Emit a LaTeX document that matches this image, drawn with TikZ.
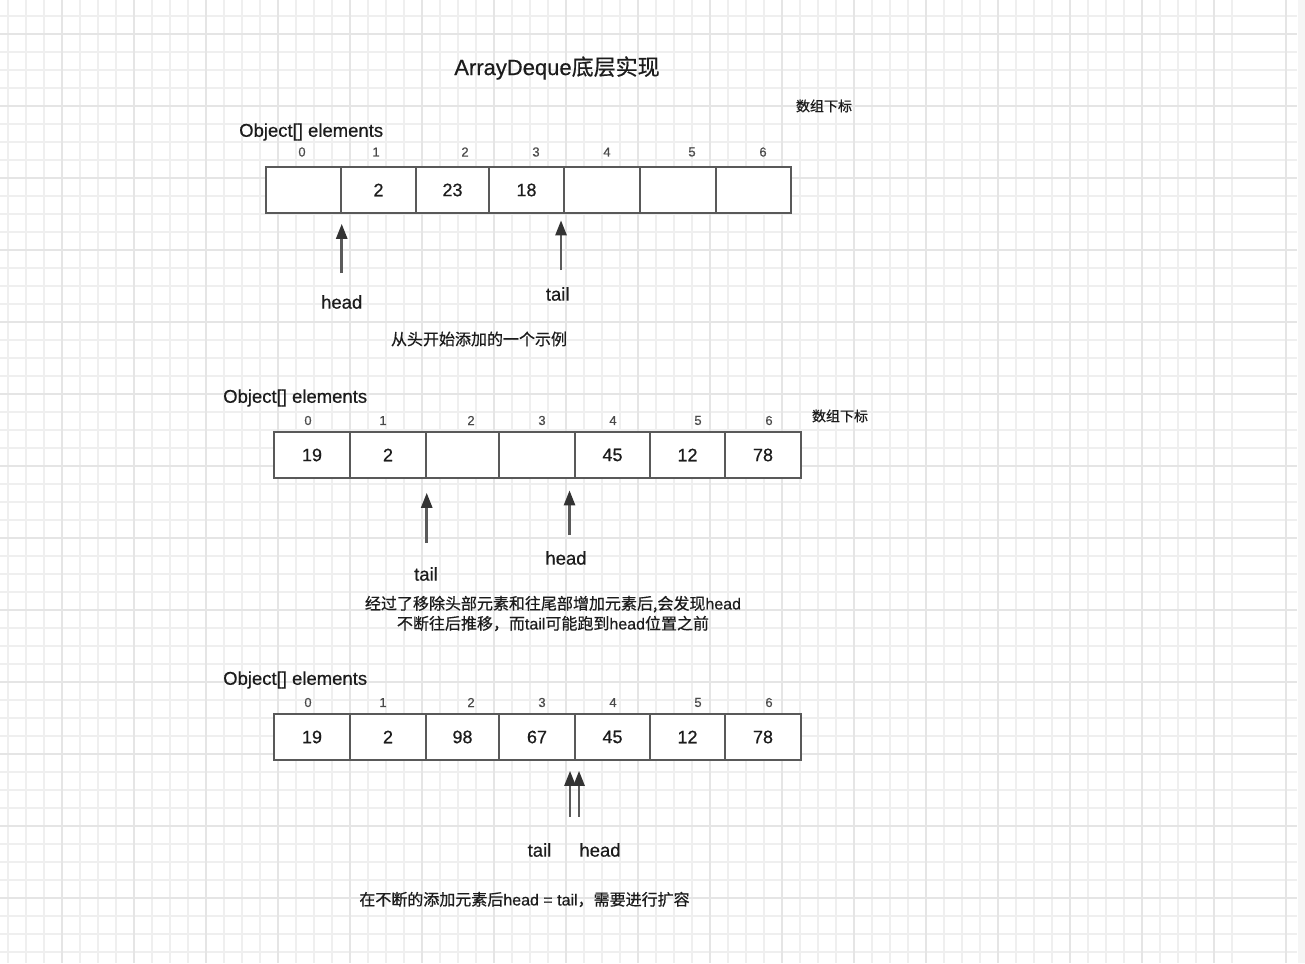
\documentclass[tikz,border=0pt]{standalone}
\usepackage{fontspec}
\setmainfont{Liberation Sans}[FakeBold=0.5]
\newfontfamily\cjk{Noto Sans CJK SC}[FakeBold=0.6]
\usetikzlibrary{arrows.meta,calc}

\definecolor{gridminor}{HTML}{EFEFEF}
\definecolor{gridmajor}{HTML}{E5E5E5}
\definecolor{boxline}{HTML}{595959}
\definecolor{ink}{HTML}{1C1C1C}
\definecolor{ptrgray}{HTML}{5A5A5A}
\definecolor{ptrhead}{HTML}{333333}
\definecolor{sidebar}{HTML}{F5F5F5}

\newcommand\zhs[1]{{\cjk #1}}

\begin{document}
\begin{tikzpicture}[x=1pt,y=-1pt,
  cell/.style={draw=boxline, line width=2.7pt, fill=white, minimum height=46pt,
    inner sep=0pt, font=\fontsize{18}{18}\selectfont, text=ink},
  idx/.style={inner sep=0pt, font=\fontsize{13}{13}\selectfont, text=ink!80},
  lbl/.style={inner sep=0pt, font=\fontsize{18.5}{20}\selectfont, text=ink},
  note/.style={inner sep=0pt, font=\fontsize{16}{20}\selectfont, text=ink, align=center},
  sub/.style={inner sep=0pt, font=\fontsize{14}{14}\selectfont, text=ink},
  ptr/.style={draw=ptrgray, line width=2.6pt,
    -{Triangle[length=15pt,width=11pt,color=ptrhead]}},
]
\useasboundingbox (0,0) rectangle (1305,963);
\fill[white] (0,0) rectangle (1305,963);

% squared paper
\foreach \k in {0,...,68} {
  \draw[gridminor, line width=1.5pt] ({8+18*\k},0) -- ({8+18*\k},963);
}
\foreach \k in {0,...,52} {
  \draw[gridminor, line width=1.5pt] (0,{16+18*\k}) -- (1297,{16+18*\k});
}
\foreach \k in {0,...,17} {
  \draw[gridmajor, line width=1.8pt] ({62+72*\k},0) -- ({62+72*\k},963);
}
\foreach \k in {0,...,12} {
  \draw[gridmajor, line width=1.8pt] (0,{34+72*\k}) -- (1297,{34+72*\k});
}
\fill[sidebar] (1297.5,0) rectangle (1305,963);

% title
\node[inner sep=0pt, font=\fontsize{22}{22}\selectfont, text=ink] (title) at (557,68)
  {ArrayDeque\zhs{底层实现}};

% ---------- array 1: filling from the head ----------
\node[lbl, anchor=west] (name1) at (239,132) {Object[] elements};
\node[sub] (sub1) at (824,106) {\zhs{数组下标}};
\foreach \l/\r/\v [count=\i from 0] in
  {266/341/{},341/416/2,416/489/23,489/564/18,564/640/{},640/716/{},716/791/{}}
  \node[cell, minimum width=\r-\l] (a\i) at ({(\l+\r)/2},190) {\v};
\foreach \x/\t [count=\i from 0] in {302/0,376/1,465/2,536/3,607/4,692/5,763/6}
  \node[idx] (ai\i) at (\x,152) {\t};

\coordinate (h1) at (341.7,273);
\coordinate (t1) at (561,270);
\draw[ptr, shorten >=9.5pt] (h1) -- (h1 |- a1.south);
\draw[ptr, shorten >=6pt] (t1) -- (t1 |- a4.south);
\node[lbl] (hl1) at (341.7,302) {head};
\node[lbl] (tl1) at (557.7,294) {tail};
\node[note] (n1) at (479,339) {\zhs{从头开始添加的一个示例}};

% ---------- array 2: tail wrapped in front of head ----------
\node[lbl, anchor=west] (name2) at (223,398) {Object[] elements};
\node[sub] (sub2) at (840,416) {\zhs{数组下标}};
\foreach \l/\r/\v [count=\i from 0] in
  {274/350/19,350/426/2,426/499/{},499/575/{},575/650/45,650/725/12,725/801/78}
  \node[cell, minimum width=\r-\l] (b\i) at ({(\l+\r)/2},455) {\v};
\foreach \x/\t [count=\i from 0] in {308/0,383/1,471/2,542/3,613/4,698/5,769/6}
  \node[idx] (bi\i) at (\x,420.5) {\t};

\coordinate (t2) at (426.7,543);
\coordinate (h2) at (569.5,535);
\draw[ptr, shorten >=13.5pt] (t2) -- (t2 |- b2.south);
\draw[ptr, shorten >=11pt] (h2) -- (h2 |- b4.south);
\node[lbl] (tl2) at (426,574) {tail};
\node[lbl] (hl2) at (566,558) {head};
\node[note] (n2) at (553,613.5)
  {\zhs{经过了移除头部元素和往尾部增加元素后,会发现}head\\
   \zhs{不断往后推移，而}tail\zhs{可能跑到}head\zhs{位置之前}};

% ---------- array 3: head meets tail ----------
\node[lbl, anchor=west] (name3) at (223,680) {Object[] elements};
\foreach \l/\r/\v [count=\i from 0] in
  {274/350/19,350/426/2,426/499/98,499/575/67,575/650/45,650/725/12,725/801/78}
  \node[cell, minimum width=\r-\l] (c\i) at ({(\l+\r)/2},737) {\v};
\foreach \x/\t [count=\i from 0] in {308/0,383/1,471/2,542/3,613/4,698/5,769/6}
  \node[idx] (ci\i) at (\x,702.5) {\t};

\coordinate (t3) at (570,816.7);
\coordinate (h3) at (579,816.7);
\draw[ptr, shorten >=9.5pt] (t3) -- (t3 |- c3.south);
\draw[ptr, shorten >=9.5pt] (h3) -- (h3 |- c4.south);
\node[lbl] (tl3) at (539.5,850) {tail};
\node[lbl] (hl3) at (600,850) {head};
\node[note] (n3) at (524.5,899.5)
  {\zhs{在不断的添加元素后}head = tail\zhs{，需要进行扩容}};
\end{tikzpicture}
\end{document}
